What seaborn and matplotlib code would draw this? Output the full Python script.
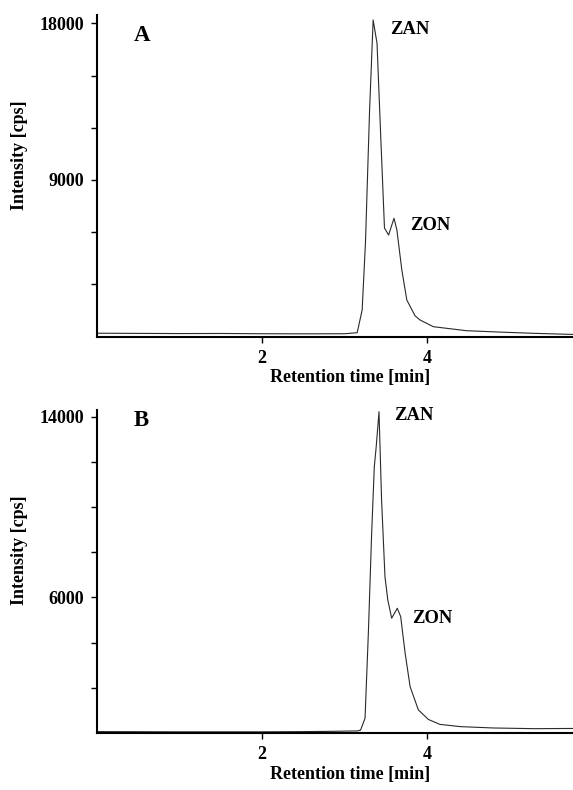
import matplotlib
matplotlib.use("Agg")
import matplotlib.pyplot as plt
import seaborn as sns
import pandas as pd

# Chromatogram A
time_a = [0.0, 0.5, 1.0, 1.5, 2.0, 2.5, 3.0, 3.15, 3.21, 3.25, 3.30, 3.343, 3.39, 3.43,
          3.48, 3.53, 3.595, 3.63, 3.69, 3.75, 3.85, 3.91, 4.07, 4.47, 4.9, 5.28, 5.76]
intensity_a = [200, 190, 180, 185, 170, 165, 170, 230, 1530, 5380, 13020, 18190, 16850, 12060,
               6240, 5840, 6800, 6130, 3830, 2110, 1200, 960, 575, 345, 260, 195, 130]

# Chromatogram B
time_b = [0.0, 0.5, 1.0, 1.5, 2.0, 2.5, 2.8, 3.15, 3.19, 3.245, 3.285, 3.325, 3.357, 3.38,
          3.414, 3.445, 3.486, 3.52, 3.567, 3.635, 3.676, 3.73, 3.79, 3.89, 4.01, 4.15,
          4.4, 4.8, 5.3, 5.76]
intensity_b = [60, 55, 50, 50, 50, 60, 70, 90, 120, 650, 4410, 8840, 11790, 12670,
               14220, 10310, 6920, 5890, 5080, 5520, 5150, 3530, 2050, 1020, 600, 380,
               280, 220, 190, 200]

panels = [
    dict(letter="A", t=time_a, y=intensity_a, ticks=[3000, 6000, 9000, 12000, 15000, 18000],
         labels=[9000, 18000], ymax=18475, zan=(3.55, 17660), zon=(3.79, 6375),
         letter_pos=(0.095, 0.935), pos=[0.1688, 0.5738, 0.8312, 0.4072]),
    dict(letter="B", t=time_b, y=intensity_b, ticks=[2000, 4000, 6000, 8000, 10000, 12000, 14000],
         labels=[6000, 14000], ymax=14300, zan=(3.595, 14045), zon=(3.81, 5077),
         letter_pos=(0.0945, 0.966), pos=[0.1688, 0.0722, 0.8312, 0.4089]),
]

sns.set_style("ticks")
plt.rcParams['font.family'] = ['Liberation Serif', 'DejaVu Serif']
plt.rcParams['font.weight'] = 'bold'
for key in ['text.color', 'axes.labelcolor', 'xtick.color', 'ytick.color']:
    plt.rcParams[key] = 'black'

fig = plt.figure(figsize=(5.73, 7.90), dpi=100)

for p in panels:
    ax = fig.add_axes(p["pos"])
    df = pd.DataFrame({"time": p["t"], "intensity": p["y"]})
    sns.lineplot(data=df, x="time", y="intensity", ax=ax, color="#2a2a2a", linewidth=0.8)

    ax.set_xlim(0, 5.76)
    ax.set_ylim(0, p["ymax"])
    ax.set_xticks([2, 4])
    ax.set_xticklabels(["2", "4"])
    ax.set_yticks(p["ticks"])
    ax.set_yticklabels([str(v) if v in p["labels"] else "" for v in p["ticks"]])
    ax.tick_params(axis="both", direction="out", length=4.3, width=1.0, pad=5,
                   labelsize=13, colors="black")
    for lbl in ax.get_xticklabels() + ax.get_yticklabels():
        lbl.set_fontweight("bold")

    sns.despine(ax=ax)
    for side in ["left", "bottom"]:
        ax.spines[side].set_linewidth(1.5)
        ax.spines[side].set_color("black")

    ax.set_xlabel("Retention time [min]", fontsize=13, fontweight="bold", va="center")
    ax.set_ylabel("Intensity [cps]", fontsize=13, fontweight="bold", va="center")
    ax.xaxis.set_label_coords(0.533, -0.128)
    ax.yaxis.set_label_coords(-0.1625, 0.565)

    ax.text(*p["letter_pos"], p["letter"], transform=ax.transAxes, fontsize=16.5,
            fontweight="bold", ha="center", va="center", color="black")
    ax.text(*p["zan"], "ZAN", fontsize=13.4, fontweight="bold", ha="left", va="center",
            color="black")
    ax.text(*p["zon"], "ZON", fontsize=13.4, fontweight="bold", ha="left", va="center",
            color="black")

fig.savefig("out.png", dpi=100)
